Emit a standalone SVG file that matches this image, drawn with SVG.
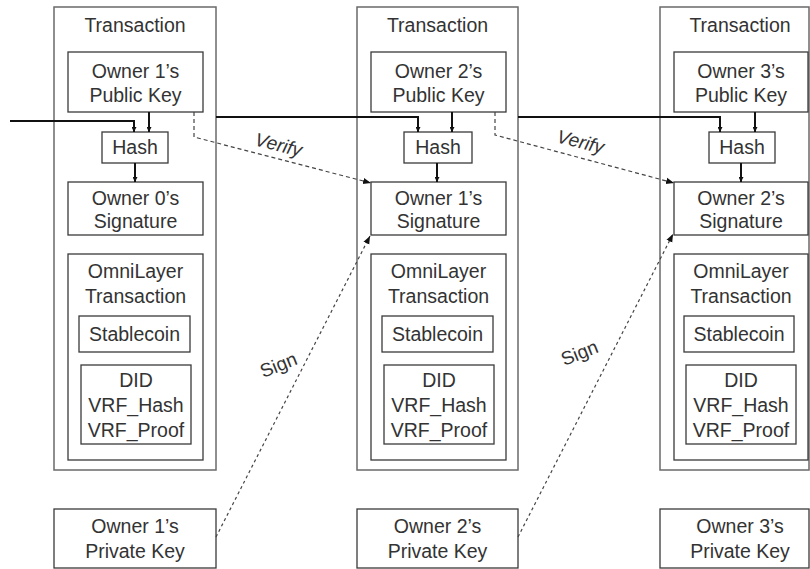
<svg xmlns="http://www.w3.org/2000/svg" width="810" height="569" viewBox="0 0 810 569">
<defs>
<style>
.outer{fill:none;stroke:#6a6a6a;stroke-width:1.5}
.box{fill:#fff;stroke:#3a3a3a;stroke-width:1.3}
text{font-family:"Liberation Sans",Arial,sans-serif;font-size:19.5px;fill:#333;text-anchor:middle}
.solid{fill:none;stroke:#111;stroke-width:2}
.dash{fill:none;stroke:#444;stroke-width:1.2;stroke-dasharray:4 3}
.dot{fill:none;stroke:#444;stroke-width:1.2;stroke-dasharray:3 3}
.lbl{font-size:19px}
</style>
<marker id="ah" viewBox="0 0 10 10" refX="10" refY="5" markerWidth="5" markerHeight="5" orient="auto" markerUnits="userSpaceOnUse"><path d="M0,0 L10,5 L0,10 z" fill="#111"/></marker>
<marker id="ahb" viewBox="0 0 10 10" refX="10" refY="5" markerWidth="8" markerHeight="8" orient="auto" markerUnits="userSpaceOnUse"><path d="M0,1 L10,5 L0,9 z" fill="#111"/></marker>
</defs>

<g id="tx1">
<rect class="outer" x="54" y="7" width="162" height="463"/>
<text x="135" y="32">Transaction</text>
</g>
<g id="pk1"><rect class="box" x="68" y="52" width="135" height="60"/><text x="135.5" y="78">Owner 1’s</text><text x="135.5" y="102">Public Key</text></g>
<g id="hash1"><rect class="box" x="102" y="132" width="66" height="31"/><text x="135" y="154">Hash</text></g>
<g id="sig1"><rect class="box" x="68" y="182" width="135" height="53"/><text x="135.5" y="205">Owner 0’s</text><text x="135.5" y="228">Signature</text></g>
<g id="omni1"><rect class="box" x="68" y="254" width="135" height="206"/><text x="135.5" y="278">OmniLayer</text><text x="135.5" y="303">Transaction</text></g>
<g id="stable1"><rect class="box" x="79" y="316" width="111" height="36"/><text x="134.5" y="341">Stablecoin</text></g>
<g id="did1"><rect class="box" x="81" y="365" width="110" height="79"/><text x="136" y="387">DID</text><text x="136" y="412">VRF_Hash</text><text x="136" y="437">VRF_Proof</text></g>
<g id="priv1"><rect class="box" x="54" y="509" width="162" height="59"/><text x="135" y="533">Owner 1’s</text><text x="135" y="558">Private Key</text></g>

<g id="tx2">
<rect class="outer" x="357" y="7" width="161" height="463"/>
<text x="437.5" y="32">Transaction</text>
</g>
<g id="pk2"><rect class="box" x="371" y="52" width="135" height="60"/><text x="438.5" y="78">Owner 2’s</text><text x="438.5" y="102">Public Key</text></g>
<g id="hash2"><rect class="box" x="404" y="132" width="68" height="31"/><text x="438" y="154">Hash</text></g>
<g id="sig2"><rect class="box" x="371" y="182" width="135" height="53"/><text x="438.5" y="205">Owner 1’s</text><text x="438.5" y="228">Signature</text></g>
<g id="omni2"><rect class="box" x="371" y="254" width="135" height="206"/><text x="438.5" y="278">OmniLayer</text><text x="438.5" y="303">Transaction</text></g>
<g id="stable2"><rect class="box" x="382" y="316" width="111" height="36"/><text x="437.5" y="341">Stablecoin</text></g>
<g id="did2"><rect class="box" x="384" y="365" width="110" height="79"/><text x="439" y="387">DID</text><text x="439" y="412">VRF_Hash</text><text x="439" y="437">VRF_Proof</text></g>
<g id="priv2"><rect class="box" x="357" y="509" width="161" height="59"/><text x="437.5" y="533">Owner 2’s</text><text x="437.5" y="558">Private Key</text></g>

<g id="tx3">
<rect class="outer" x="660" y="7" width="149" height="463"/>
<text x="740" y="32">Transaction</text>
</g>
<g id="pk3"><rect class="box" x="674" y="52" width="134" height="60"/><text x="741" y="78">Owner 3’s</text><text x="741" y="102">Public Key</text></g>
<g id="hash3"><rect class="box" x="709" y="132" width="66" height="31"/><text x="742" y="154">Hash</text></g>
<g id="sig3"><rect class="box" x="674" y="182" width="134" height="53"/><text x="741" y="205">Owner 2’s</text><text x="741" y="228">Signature</text></g>
<g id="omni3"><rect class="box" x="674" y="254" width="134" height="206"/><text x="741" y="278">OmniLayer</text><text x="741" y="303">Transaction</text></g>
<g id="stable3"><rect class="box" x="684" y="316" width="110" height="36"/><text x="739" y="341">Stablecoin</text></g>
<g id="did3"><rect class="box" x="686" y="365" width="110" height="79"/><text x="741" y="387">DID</text><text x="741" y="412">VRF_Hash</text><text x="741" y="437">VRF_Proof</text></g>
<g id="priv3"><rect class="box" x="660" y="509" width="149" height="59"/><text x="740" y="533">Owner 3’s</text><text x="740" y="558">Private Key</text></g>

<g id="connectors">
<path class="solid" d="M10,121 H134 V132" marker-end="url(#ah)"/>
<path class="solid" d="M149,112 V132" marker-end="url(#ah)"/>
<path class="solid" d="M135,163 V182" marker-end="url(#ah)"/>
<path class="solid" d="M216,117 H418 V132" marker-end="url(#ah)"/>
<path class="solid" d="M452,112 V132" marker-end="url(#ah)"/>
<path class="solid" d="M437,163 V182" marker-end="url(#ah)"/>
<path class="solid" d="M518,117 H720 V132" marker-end="url(#ah)"/>
<path class="solid" d="M755,112 V132" marker-end="url(#ah)"/>
<path class="solid" d="M741,163 V182" marker-end="url(#ah)"/>
<path class="dash" d="M194,112 V137 L371,183" marker-end="url(#ahb)"/>
<path class="dash" d="M495,112 V135 L674,183" marker-end="url(#ahb)"/>
<path class="dot" d="M216,537 L370,236" marker-end="url(#ahb)"/>
<path class="dot" d="M518,537 L673,234" marker-end="url(#ahb)"/>
<text class="lbl" font-style="italic" transform="translate(277,151) rotate(14)">Verify</text>
<text class="lbl" font-style="italic" transform="translate(579,148) rotate(14)">Verify</text>
<text class="lbl" transform="translate(281,371) rotate(-22)">Sign</text>
<text class="lbl" transform="translate(582,359) rotate(-22)">Sign</text>
</g>
</svg>
